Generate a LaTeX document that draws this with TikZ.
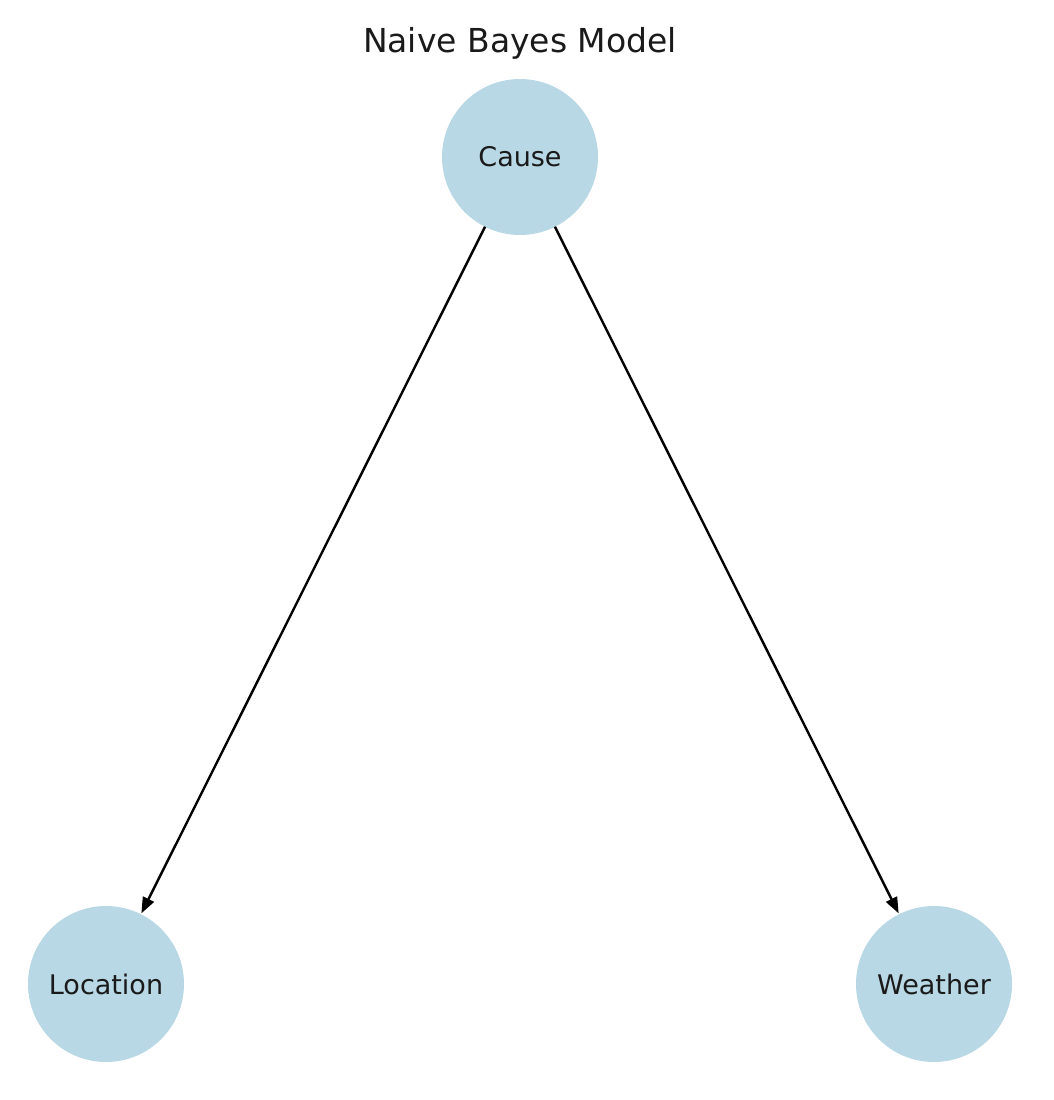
\documentclass[tikz,border=0pt]{standalone}
\usepackage{fontspec}
\setmainfont{DejaVu Sans}
\usetikzlibrary{arrows.meta}
\definecolor{nodeblue}{RGB}{183,216,228}
\definecolor{txt}{RGB}{26,26,26}
\begin{document}
\begin{tikzpicture}[x=1pt,y=-1pt,
  bnode/.style={circle,fill=nodeblue,minimum size=156pt,inner sep=0pt,outer sep=0pt,font=\fontsize{27}{32}\selectfont,text=txt},
  edge/.style={line width=2.4pt,-{Triangle[length=16pt,width=12pt]},shorten >=1pt}]
\useasboundingbox (0,0) rectangle (1054,1100);
\node[font=\fontsize{33}{40}\selectfont,text=txt] (title) at (520,43) {Naive Bayes Model};
\node[bnode] (cause) at (520,157) {Cause};
\node[bnode] (loc) at (106,984) {Location};
\node[bnode] (wea) at (934,984) {Weather};
\draw[edge] (cause) -- (loc);
\draw[edge] (cause) -- (wea);
\end{tikzpicture}
\end{document}
